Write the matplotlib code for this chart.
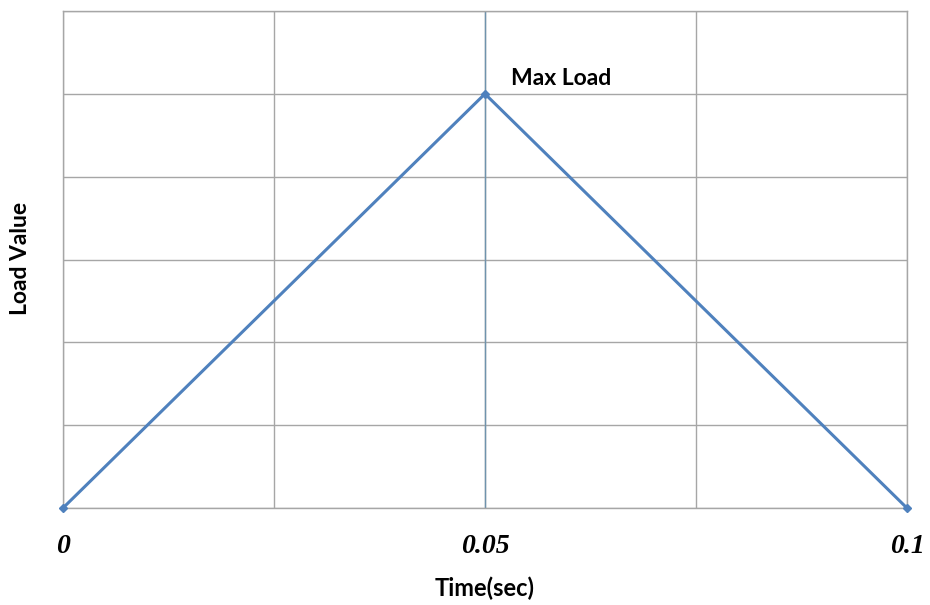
import numpy as np
import matplotlib.pyplot as plt
from matplotlib.ticker import MultipleLocator

# data
time_sec = [0.0, 0.05, 0.1]
load_value = [0.0, 5.0, 0.0]
x_tick_values = [0.0, 0.05, 0.1]
x_tick_labels = ["0", "0.05", "0.1"]
peak_label = "Max Load"

LINE_COLOR = "#4F81BD"
GRID_COLOR = "#A6A6A6"
MID_COLOR = "#6F93AD"
SANS = ["Lato", "DejaVu Sans"]
SERIF = ["Liberation Serif", "DejaVu Serif"]

fig = plt.figure(figsize=(9.3, 6.05), dpi=100)
ax = fig.add_axes([0.0677, 0.1603, 0.9075, 0.8215])

ax.set_xlim(0, 0.1)
ax.set_ylim(0, 6)

# grid
ax.xaxis.set_minor_locator(MultipleLocator(0.025))
ax.yaxis.set_major_locator(MultipleLocator(1))
ax.grid(which="both", color=GRID_COLOR, linewidth=1.0)
ax.set_axisbelow(True)
ax.axvline(0.05, color=MID_COLOR, linewidth=1.0, zorder=1)

for s in ax.spines.values():
    s.set_color(GRID_COLOR)
    s.set_linewidth(1.0)

ax.plot(time_sec, load_value, color=LINE_COLOR, linewidth=2.2,
        marker="D", markersize=4.5, clip_on=False, zorder=3)

ax.set_xticks(x_tick_values)
ax.set_xticklabels(x_tick_labels, family=SERIF, fontstyle="italic",
                   fontweight="bold", fontsize=20)
ax.tick_params(axis="x", which="both", length=0, pad=19)
ax.tick_params(axis="y", which="both", length=0, labelleft=False)

ax.annotate(peak_label, xy=(time_sec[1], load_value[1]), xytext=(19, 11),
            textcoords="offset points", ha="left", va="center",
            family=SANS, fontweight="bold", fontsize=16.5)

fig.text(0.5215, 0.028, "Time(sec)", ha="center", va="center",
         family=SANS, fontweight="bold", fontsize=17)
fig.text(0.022, 0.5736, "Load Value", ha="center", va="center",
         rotation=90, family=SANS, fontweight="bold", fontsize=16.5)

fig.savefig("out.png", dpi=100)
